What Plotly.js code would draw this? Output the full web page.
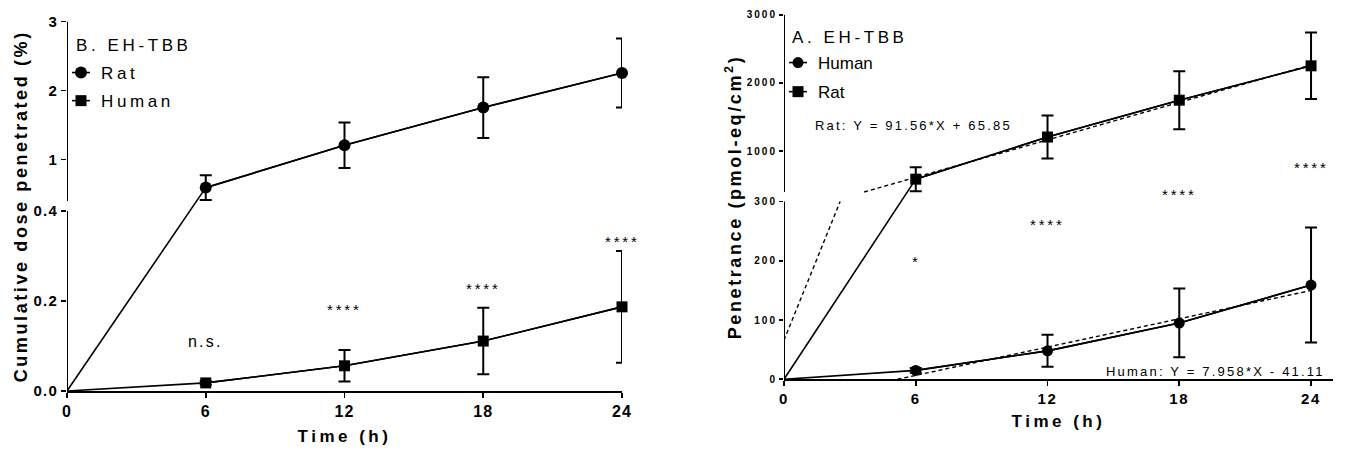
<!DOCTYPE html>
<html>
<head>
<meta charset="utf-8">
<script src="https://cdn.plot.ly/plotly-3.0.1.min.js"></script>
<style>
  html, body { margin: 0; padding: 0; background: #fff; }
  #chart { width: 1347px; height: 450px; }
  .legendtext { letter-spacing: 3.6px; }
  .annotation-text { letter-spacing: 2.2px; }
  .xtitle, .x2title { letter-spacing: 3.5px; }
  .ytitle, .y2title { letter-spacing: 2.6px; }
  .xtick text, .ytick text { letter-spacing: 1.2px; }
  .x2tick text { letter-spacing: 1.6px; }
  .y2tick text { letter-spacing: 2px; }
</style>
</head>
<body>
<div id="chart"></div>
<script>
// ---------------- data ----------------
const hours = [0, 6, 12, 18, 24];

// Panel B (left): cumulative dose penetrated (%)
const bRat = [0, 0.594, 1.207, 1.754, 2.256];
const bRatErr = [0, 0.18, 0.33, 0.44, 0.50];
const bHuman = [0, 0.018, 0.056, 0.111, 0.187];
const bHumanErr = [0, 0.004, 0.035, 0.074, 0.124];

// Panel A (right): penetrance (pmol-eq/cm2)
const aHuman = [0, 15, 48, 95, 159];
const aHumanErr = [0, 4, 27, 58, 97];
const aRat = [0, 588, 1206, 1746, 2250];
const aRatErr = [0, 176, 315, 425, 488];

// linear fits printed on the chart
const ratFit = { slope: 91.56, intercept: 65.85 };
const humanFit = { slope: 7.958, intercept: -41.11 };

// tick labels
const xTickVals = [0, 6, 12, 18, 24];
const xTickText = ['0', '6', '12', '18', '24'];
const bTickVals = [0, 0.2, 0.4, 1, 2, 3];
const bTickText = ['0.0', '0.2', '0.4', '1', '2', '3'];
const aTickVals = [0, 100, 200, 300, 1000, 2000, 3000];
const aTickText = ['0', '100', '200', '300', '1000', '2000', '3000'];

// ---------------- broken-axis geometry ----------------
const W = 1347, H = 450;
const M = { l: 67, r: 14, t: 14, b: 59 };
const plotW = W - M.l - M.r, plotH = H - M.t - M.b;
const PX = x => (x - M.l) / plotW;
const PY = y => (H - M.b - y) / plotH;

const bBreak = { lower: [0, 0.4], upper: [0.4, 3], lowerPx: 180, gapPx: 10, upperPx: 179.4 };
const aBreak = { lower: [0, 300], upper: [400, 3000], lowerPx: 177.8, gapPx: 9.5, upperPx: 177.3 };

function makeScale(br) {
  const f = v => {
    if (v <= br.lower[1]) return (v - br.lower[0]) / (br.lower[1] - br.lower[0]) * br.lowerPx;
    if (v >= br.upper[0]) return br.lowerPx + br.gapPx + (v - br.upper[0]) / (br.upper[1] - br.upper[0]) * br.upperPx;
    return br.lowerPx + (v - br.lower[1]) / (br.upper[0] - br.lower[1]) * br.gapPx;
  };
  f.top = br.lowerPx + br.gapPx + br.upperPx;
  f.upperBottom = br.lowerPx + br.gapPx;
  f.lowerTop = br.lowerPx;
  return f;
}
const fB = makeScale(bBreak);
const fA = makeScale(aBreak);

function errs(vals, err, f) {
  return {
    type: 'data', symmetric: false,
    array: vals.map((v, i) => f(v + err[i]) - f(v)),
    arrayminus: vals.map((v, i) => f(v) - f(v - err[i])),
    color: '#000', thickness: 2, width: 6
  };
}

function fitSegments(fit, x0, x1, br, f) {
  const xs = [], ys = [];
  [br.lower, br.upper].forEach(sec => {
    let xa = (sec[0] - fit.intercept) / fit.slope;
    let xb = (sec[1] - fit.intercept) / fit.slope;
    xa = Math.max(xa, x0); xb = Math.min(xb, x1);
    if (xa < xb) {
      xs.push(xa, xb, null);
      ys.push(f(fit.slope * xa + fit.intercept), f(fit.slope * xb + fit.intercept), null);
    }
  });
  return { x: xs, y: ys };
}

const FONT = 'Liberation Sans, Arial, Helvetica, sans-serif';
const lineStyle = { color: '#000', width: 1.6 };

// a series: connecting line from the origin + measured points (with SD) from 6 h on
function series(name, vals, err, f, symbol, size, xa, ya, leg, group) {
  const xs = hours.slice(1), ys = vals.slice(1), es = err.slice(1);
  return [
    { x: hours, y: vals.map(f), mode: 'lines', xaxis: xa, yaxis: ya, showlegend: false,
      line: lineStyle, hoverinfo: 'skip', legendgroup: group, legend: leg },
    { x: xs, y: ys.map(f), name: name, mode: 'lines+markers', xaxis: xa, yaxis: ya,
      line: lineStyle, marker: { symbol: symbol, size: size, color: '#000' },
      error_y: errs(ys, es, f), cliponaxis: false, legend: leg, legendgroup: group }
  ];
}

const ratFitSeg = fitSegments(ratFit, 0, 24, aBreak, fA);
const humanFitSeg = fitSegments(humanFit, 0, 24, aBreak, fA);

const traces = [].concat(
  series('Rat', bRat, bRatErr, fB, 'circle', 12, 'x', 'y', 'legend', 'bRat'),
  series('Human', bHuman, bHumanErr, fB, 'square', 11, 'x', 'y', 'legend', 'bHuman'),
  series('Human', aHuman, aHumanErr, fA, 'circle', 11, 'x2', 'y2', 'legend2', 'aHuman'),
  series('Rat', aRat, aRatErr, fA, 'square', 11, 'x2', 'y2', 'legend2', 'aRat'),
  [
    { x: ratFitSeg.x, y: ratFitSeg.y, mode: 'lines', xaxis: 'x2', yaxis: 'y2', showlegend: false,
      line: { color: '#000', width: 1.4, dash: '4px,3px' }, hoverinfo: 'skip' },
    { x: humanFitSeg.x, y: humanFitSeg.y, mode: 'lines', xaxis: 'x2', yaxis: 'y2', showlegend: false,
      line: { color: '#000', width: 1.4, dash: '4px,3px' }, hoverinfo: 'skip' }
  ]
);

const xCommon = {
  showgrid: false, zeroline: false, showline: true, linecolor: '#000', linewidth: 2,
  ticks: 'outside', ticklen: 5, tickwidth: 1.6, tickcolor: '#000', tickmode: 'array',
  tickvals: xTickVals, ticktext: xTickText, fixedrange: true
};
const yCommon = {
  showgrid: false, zeroline: false, showline: false, ticks: 'outside', ticklen: 5,
  tickwidth: 1.6, tickcolor: '#000', tickmode: 'array', fixedrange: true
};

// broken y-axis: two line pieces plus an end tick at the bottom of the upper piece
function yAxisShapes(xref, yref, f, tl) {
  const ln = { color: '#000', width: 2 };
  return [
    { type: 'line', xref: xref, yref: yref, x0: 0, x1: 0, y0: 0, y1: f.lowerTop, line: ln },
    { type: 'line', xref: xref, yref: yref, x0: 0, x1: 0, y0: f.upperBottom, y1: f.top, line: ln },
    { type: 'line', xref: xref, yref: yref, xsizemode: 'pixel', xanchor: 0, x0: -tl, x1: 0,
      y0: f.upperBottom, y1: f.upperBottom, line: { color: '#000', width: 1.6 } }
  ];
}

const annFont = { family: FONT, size: 15, color: '#000' };
const star = s => '<span style="letter-spacing:2.8px">' + s + '</span>';
const layout = {
  width: W, height: H,
  margin: M,
  paper_bgcolor: '#fff', plot_bgcolor: '#fff',
  font: { family: FONT, color: '#000' },
  xaxis: Object.assign({}, xCommon, {
    domain: [PX(67), PX(622)], range: [0, 24], anchor: 'y',
    tickfont: { family: FONT, size: 16, color: '#000', weight: 'bold' },
    title: { text: 'Time (h)', font: { family: FONT, size: 17, weight: 'bold', color: '#000' }, standoff: 11 }
  }),
  yaxis: Object.assign({}, yCommon, {
    domain: [PY(391), PY(391 - fB.top)], range: [0, fB.top], anchor: 'x',
    tickvals: bTickVals.map(fB), ticktext: bTickText,
    tickfont: { family: FONT, size: 15, color: '#000', weight: 'bold' },
    title: { text: 'Cumulative dose penetrated (%)', font: { family: FONT, size: 18, weight: 'bold', color: '#000' }, standoff: 1 }
  }),
  xaxis2: Object.assign({}, xCommon, {
    domain: [PX(784), PX(1333)], range: [0, 25], anchor: 'y2',
    tickfont: { family: FONT, size: 15, color: '#000', weight: 'bold' },
    title: { text: 'Time (h)', font: { family: FONT, size: 17, weight: 'bold', color: '#000' }, standoff: 9 }
  }),
  yaxis2: Object.assign({}, yCommon, {
    domain: [PY(379.3), PY(379.3 - fA.top)], range: [0, fA.top], anchor: 'x2', ticklen: 4,
    tickvals: aTickVals.map(fA), ticktext: aTickText,
    tickfont: { family: FONT, size: 10, color: '#000', weight: 'bold' },
    title: { text: 'Penetrance (pmol-eq/cm<sup>2</sup>)', font: { family: FONT, size: 18, weight: 'bold', color: '#000' }, standoff: 0 }
  }),
  shapes: yAxisShapes('x', 'y', fB, 5).concat(yAxisShapes('x2', 'y2', fA, 4)),
  legend: {
    x: PX(61), y: PY(55), xanchor: 'left', yanchor: 'top', bgcolor: 'rgba(0,0,0,0)',
    font: { family: FONT, size: 17, color: '#000' }, itemwidth: 30, tracegroupgap: 3,
    traceorder: 'grouped'
  },
  legend2: {
    x: PX(778), y: PY(45), xanchor: 'left', yanchor: 'top', bgcolor: 'rgba(0,0,0,0)',
    font: { family: FONT, size: 17, color: '#000' }, itemwidth: 30, tracegroupgap: 4,
    traceorder: 'grouped'
  },
  annotations: [
    { xref: 'paper', yref: 'paper', x: PX(74), y: PY(45), xanchor: 'left', yanchor: 'middle',
      text: '<span style="letter-spacing:3.6px">B. EH-TBB</span>', showarrow: false, font: { family: FONT, size: 17, color: '#000' } },
    { xref: 'paper', yref: 'paper', x: PX(790), y: PY(37), xanchor: 'left', yanchor: 'middle',
      text: '<span style="letter-spacing:3.6px">A. EH-TBB</span>', showarrow: false, font: { family: FONT, size: 17, color: '#000' } },
    { xref: 'x', yref: 'y', x: 6, y: 50, text: 'n.s.', showarrow: false, font: { family: FONT, size: 16, color: '#000' } },
    { xref: 'x', yref: 'y', x: 12, y: 82, text: star('****'), showarrow: false, font: annFont },
    { xref: 'x', yref: 'y', x: 18, y: 103, text: star('****'), showarrow: false, font: annFont },
    { xref: 'x', yref: 'y', x: 24, y: 150, text: star('****'), showarrow: false, font: annFont },
    { xref: 'x2', yref: 'y2', x: 6, y: 118, text: '*', showarrow: false, font: annFont },
    { xref: 'x2', yref: 'y2', x: 12, y: 155, text: star('****'), showarrow: false, font: annFont },
    { xref: 'x2', yref: 'y2', x: 18, y: 185, text: star('****'), showarrow: false, font: annFont },
    { xref: 'x2', yref: 'y2', x: 24, y: 212, text: star('****'), showarrow: false, font: annFont },
    { xref: 'paper', yref: 'paper', x: PX(813), y: PY(125), xanchor: 'left', yanchor: 'middle',
      text: 'Rat: Y = 91.56*X + 65.85', showarrow: false, font: { family: FONT, size: 13, color: '#000' } },
    { xref: 'paper', yref: 'paper', x: PX(1104), y: PY(371), xanchor: 'left', yanchor: 'middle',
      text: 'Human: Y = 7.958*X - 41.11', showarrow: false, font: { family: FONT, size: 13, color: '#000' } }
  ],
  showlegend: true
};

Plotly.newPlot('chart', traces, layout, { staticPlot: true, displayModeBar: false }).then(gd => {
  // GraphPad-style legend keys: short line stubs through the symbol
  document.querySelectorAll('.legendlines path').forEach(p => p.setAttribute('d', 'M11,0h18'));
});
</script>
</body>
</html>
